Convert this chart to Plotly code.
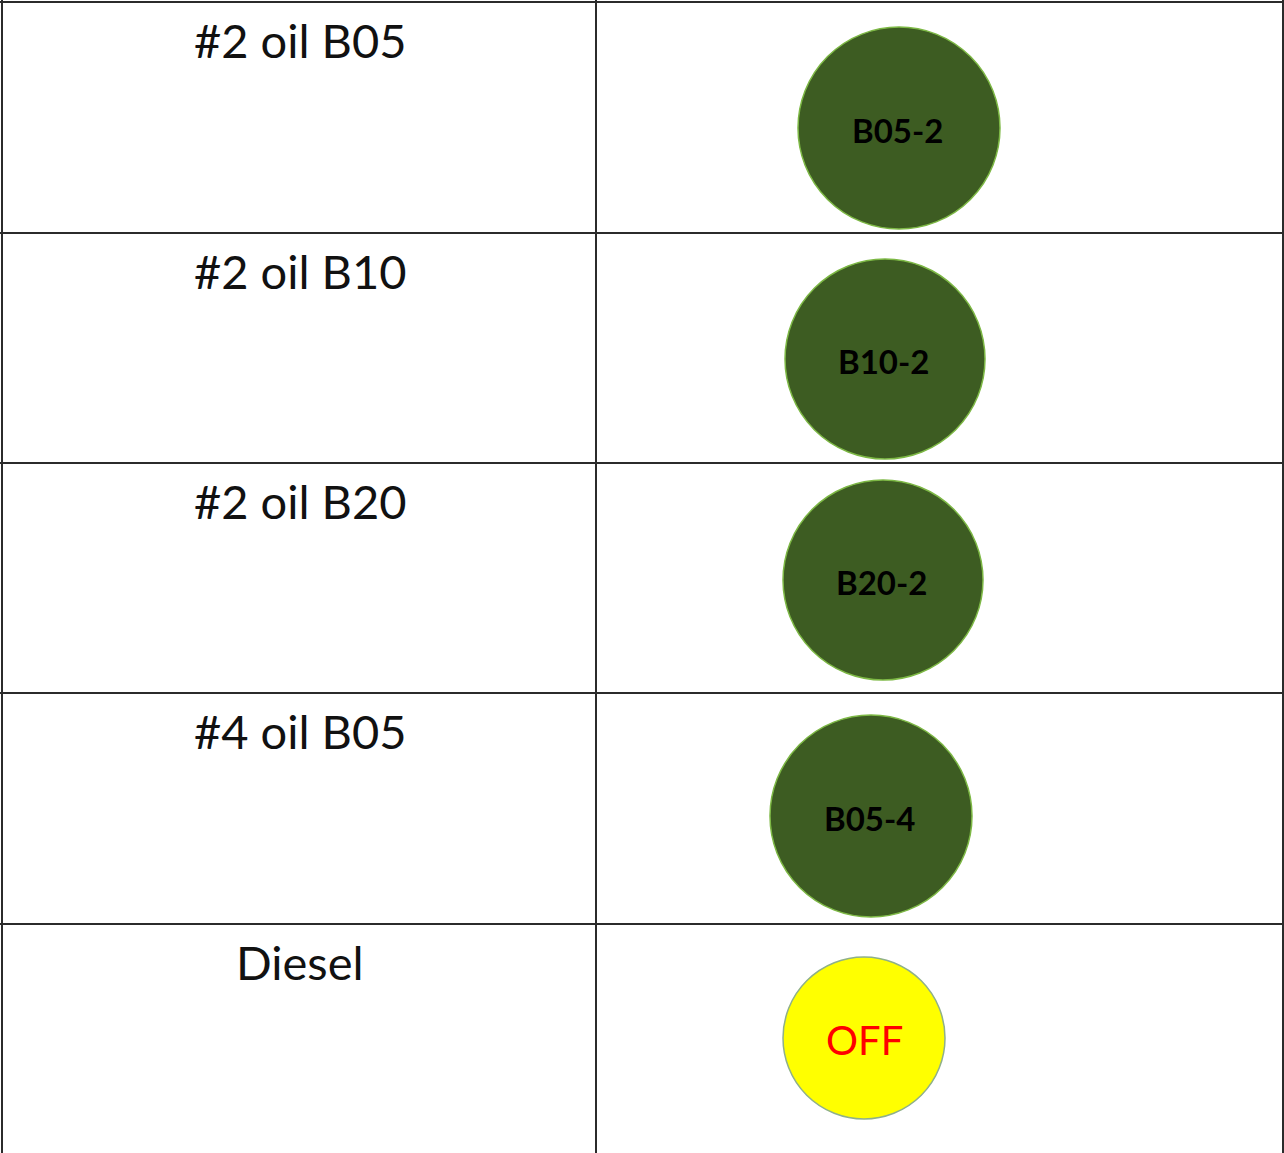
import plotly.graph_objects as go

# ---- data ----
fuel_labels = ["#2 oil B05", "#2 oil B10", "#2 oil B20", "#4 oil B05", "Diesel"]
status_labels = ["B05-2", "B10-2", "B20-2", "B05-4", "OFF"]
status_on = [True, True, True, True, False]

# ---- layout geometry (pixels) ----
W, H = 1284, 1153
row_tops = [2, 233, 463, 693, 924]
col_split = 596
circle_cx = [899, 885, 883, 871, 864]
circle_cy = [128, 359, 580, 816, 1038]
circle_r = [101, 100, 100, 101, 81]

ON_FILL = "#3D5C22"
ON_EDGE = "#7DB845"
OFF_FILL = "#FFFF00"
OFF_EDGE = "#8FB08A"
LINE = "#2b2b2b"
FONT = "Lato"

fig = go.Figure()
fig.add_trace(go.Scatter(x=[0, W], y=[0, H], mode="markers",
                         marker=dict(opacity=0), hoverinfo="skip", showlegend=False))

shapes = []
shapes.append(dict(type="line", x0=2, x1=2, y0=0, y1=H, line=dict(color=LINE, width=2)))
shapes.append(dict(type="line", x0=W - 1, x1=W - 1, y0=0, y1=H, line=dict(color=LINE, width=2)))
shapes.append(dict(type="line", x0=col_split, x1=col_split, y0=0, y1=H, line=dict(color=LINE, width=2)))
for t in row_tops:
    shapes.append(dict(type="line", x0=0, x1=W, y0=t, y1=t, line=dict(color=LINE, width=2)))

annotations = []
for i, (lab, st, on) in enumerate(zip(fuel_labels, status_labels, status_on)):
    cx, cy, r = circle_cx[i], circle_cy[i], circle_r[i]
    shapes.append(dict(type="circle", x0=cx - r, x1=cx + r, y0=cy - r, y1=cy + r,
                       fillcolor=ON_FILL if on else OFF_FILL,
                       line=dict(color=ON_EDGE if on else OFF_EDGE, width=1.5)))
    annotations.append(dict(x=300, y=row_tops[i] + 38, text=lab, showarrow=False,
                            xanchor="center", yanchor="middle",
                            font=dict(family=FONT, size=47, color="#111111")))
    if on:
        annotations.append(dict(x=cx - 2, y=cy + 2, text="<b>" + st + "</b>", showarrow=False,
                                xanchor="center", yanchor="middle",
                                font=dict(family=FONT, size=33, color="#000000")))
    else:
        annotations.append(dict(x=cx, y=cy + 2, text=st, showarrow=False,
                                xanchor="center", yanchor="middle",
                                font=dict(family=FONT, size=40, color="#FF0000")))

fig.update_layout(
    width=W, height=H,
    margin=dict(l=0, r=0, t=0, b=0),
    paper_bgcolor="white", plot_bgcolor="white",
    xaxis=dict(range=[0, W], visible=False, fixedrange=True),
    yaxis=dict(range=[H, 0], visible=False, fixedrange=True),
    shapes=shapes, annotations=annotations,
    showlegend=False,
)
fig.write_html("out.html",
               post_script="document.body.style.margin='0';document.body.style.overflow='hidden';",
               config={"displayModeBar": False})
